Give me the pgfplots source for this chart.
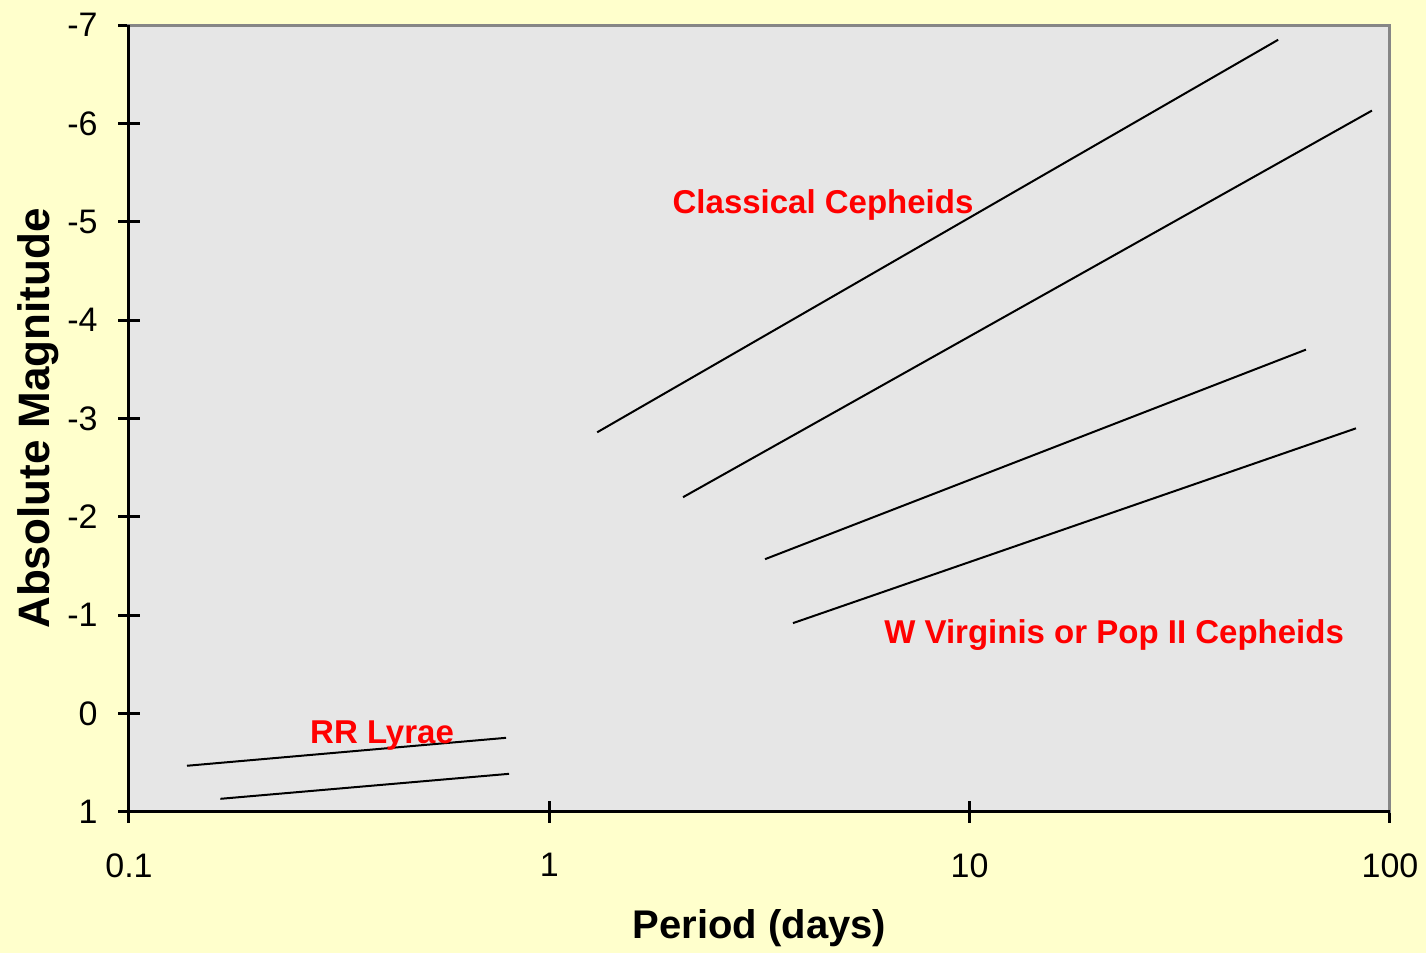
\documentclass[border=0pt]{standalone}
\usepackage{pgfplots}
\pgfplotsset{compat=1.18}
\usepackage{fontspec}
\setmainfont{Liberation Sans}
\definecolor{bgyellow}{HTML}{FFFFCC}
\definecolor{plotgray}{HTML}{E6E6E6}
\definecolor{bordergray}{HTML}{868686}
\begin{document}
\begin{tikzpicture}
\fill[bgyellow] (-64.5pt,-70.5pt) rectangle (648.5pt,406pt);
\begin{axis}[
  at={(0,0)}, anchor=south west,
  scale only axis, width=630.5pt, height=393.5pt,
  xmode=log, log basis x=10,
  xmin=0.1, xmax=100, ymin=-7, ymax=1, y dir=reverse,
  xtick={0.1,1,10,100}, xticklabels={0.1,1,10,100},
  minor xtick={},
  ytick={-7,-6,-5,-4,-3,-2,-1,0,1},
  yticklabels={-7,-6,-5,-4,-3,-2,-1,0,1},
  xtick pos=bottom, ytick pos=left,
  tick align=center,
  major tick length=11pt,
  tick style={black, line width=1.5pt},
  axis background/.style={fill=plotgray},
  axis line style={bordergray, line width=1.5pt},
  ticklabel style={font=\fontsize{17}{17}\selectfont, inner sep=0pt},
  yticklabel style={anchor=east, xshift=-10pt},
  xticklabel style={anchor=north, yshift=-15pt},
  xlabel={Period (days)},
  ylabel={Absolute Magnitude},
  xlabel style={font=\bfseries\fontsize{20}{20}\selectfont, at={(axis description cs:0.5,-0.1474)}, anchor=center},
  ylabel style={font=\bfseries\fontsize{22}{22}\selectfont, at={(axis description cs:-0.0722,0.5)}, anchor=center},
  clip=false,
]
\addplot[black, line width=1pt] coordinates {(1.30,-2.86) (54.2,-6.85)};
\addplot[black, line width=1pt] coordinates {(2.08,-2.20) (90.6,-6.13)};
\addplot[black, line width=1pt] coordinates {(3.26,-1.57) (63.1,-3.70)};
\addplot[black, line width=1pt] coordinates {(3.80,-0.92) (83.0,-2.90)};
\addplot[black, line width=1pt] coordinates {(0.1374,0.53) (0.789,0.246)};
\addplot[black, line width=1pt] coordinates {(0.165,0.866) (0.802,0.612)};
\node[red, font=\bfseries\fontsize{16.5}{16.5}\selectfont] at (axis cs:4.48,-5.17) {Classical Cepheids};
\node[red, font=\bfseries\fontsize{16.5}{16.5}\selectfont] at (axis cs:22.06,-0.80) {W Virginis or Pop II Cepheids};
\node[red, font=\bfseries\fontsize{16.5}{16.5}\selectfont] at (axis cs:0.400,0.225) {RR Lyrae};
\draw[black, line width=1.5pt] (axis description cs:0,1) -- (axis description cs:0,0) -- (axis description cs:1,0);
\end{axis}
\end{tikzpicture}
\end{document}
